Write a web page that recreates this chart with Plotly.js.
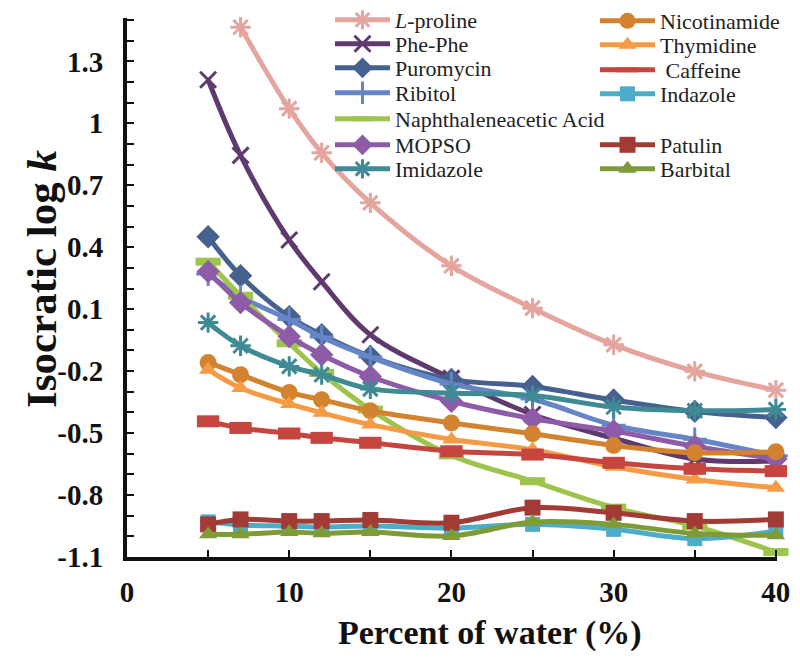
<!DOCTYPE html>
<html><head><meta charset="utf-8">
<script src="https://cdn.plot.ly/plotly-3.0.1.min.js"></script>
<style>html,body{margin:0;padding:0;background:#fff}</style>
</head><body><div id="chart" style="width:800px;height:671px"></div>
<script>
// ---- data ----
const waterPct        = [5, 7, 10, 12, 15, 20, 25, 30, 35, 40];
const waterPctProline = [7, 10, 12, 15, 20, 25, 30, 35, 40];

const lProline     = [1.465, 1.071, 0.857, 0.615, 0.31, 0.105, -0.072, -0.201, -0.292];
const phePhe       = [1.211, 0.845, 0.435, 0.233, -0.024, -0.235, -0.41, -0.525, -0.625, -0.635];
const puromycin    = [0.451, 0.262, 0.064, -0.024, -0.129, -0.24, -0.274, -0.34, -0.395, -0.425];
const ribitol      = [0.27, 0.16, 0.05, -0.035, -0.132, -0.262, -0.335, -0.462, -0.53, -0.61];
const naphAcid     = [0.33, 0.165, -0.065, -0.209, -0.386, -0.608, -0.733, -0.861, -0.95, -1.076];
const mopso        = [0.282, 0.132, -0.032, -0.121, -0.226, -0.346, -0.43, -0.49, -0.564, -0.625];
const imidazole    = [0.035, -0.077, -0.177, -0.217, -0.286, -0.306, -0.318, -0.374, -0.392, -0.386];
const nicotinamide = [-0.158, -0.217, -0.303, -0.338, -0.392, -0.451, -0.503, -0.56, -0.595, -0.59];
const thymidine    = [-0.193, -0.282, -0.359, -0.402, -0.459, -0.531, -0.58, -0.663, -0.725, -0.765];
const caffeine     = [-0.443, -0.475, -0.502, -0.523, -0.547, -0.588, -0.604, -0.644, -0.673, -0.684];
const indazole     = [-0.93, -0.945, -0.95, -0.955, -0.95, -0.96, -0.942, -0.966, -1.011, -0.974];
const patulin      = [-0.942, -0.918, -0.926, -0.926, -0.921, -0.934, -0.861, -0.886, -0.926, -0.918];
const barbital     = [-0.99, -0.99, -0.979, -0.985, -0.979, -0.998, -0.931, -0.942, -0.986, -0.995];

const seriesNames = ['<i>L</i>-proline', 'Phe-Phe', 'Puromycin', 'Ribitol', 'Naphthaleneacetic Acid',
  'MOPSO', 'Imidazole', 'Nicotinamide', 'Thymidine', ' Caffeine', 'Indazole', 'Patulin', 'Barbital'];

const yTickVals = [-1.1, -0.8, -0.5, -0.2, 0.1, 0.4, 0.7, 1, 1.3];
const yTickText = ['-1.1', '-0.8', '-0.5', '-0.2', '0.1', '0.4', '0.7', '1', '1.3'];
const xTickVals = [0, 10, 20, 30, 40];
const xTickText = ['0', '10', '20', '30', '40'];

// ---- styles ----
const seriesX = [waterPctProline, waterPct, waterPct, waterPct, waterPct, waterPct, waterPct,
  waterPct, waterPct, waterPct, waterPct, waterPct, waterPct];
const seriesY = [lProline, phePhe, puromycin, ribitol, naphAcid, mopso, imidazole,
  nicotinamide, thymidine, caffeine, indazole, patulin, barbital];
const styles = [
  {color: '#E3A59E', symbol: 'asterisk-open', size: 17, open: true},
  {color: '#5F3A6F', symbol: 'x-thin-open', size: 16, open: true},
  {color: '#46608F', symbol: 'diamond', size: 18},
  {color: '#6585C6', symbol: 'cross-thin-open', size: 17, open: true},
  {color: '#9EC44C', symbol: 'line-ew-open', size: 18, open: true, mlw: 8},
  {color: '#8D5BA7', symbol: 'diamond', size: 18},
  {color: '#3F8B95', symbol: 'asterisk-open', size: 17, open: true},
  {color: '#D3832F', symbol: 'circle', size: 17},
  {color: '#F59A45', symbol: 'triangle-up', size: 16},
  {color: '#C6453F', symbol: 'line-ew-open', size: 16, open: true, mlw: 12},
  {color: '#4CADC8', symbol: 'square', size: 15},
  {color: '#A23A36', symbol: 'square', size: 16},
  {color: '#7E9B37', symbol: 'triangle-up', size: 16}
];
// legend placement (pixel rows/cols of the reference legend)
const legendCol = [0, 0, 0, 0, 0, 0, 0, 1, 1, 1, 1, 1, 1];
const legendRowPx = [20, 44, 68, 93, 119, 145, 169, 21, 45, 70, 94, 145, 169];
const legendColPx = [330, 595];

const W = 800, H = 671;
const M = {l: 127, r: 23, t: 18, b: 114, autoexpand: false};
const plotH = H - M.t - M.b, plotW = W - M.l - M.r;

const traces = seriesY.map((ys, i) => {
  const s = styles[i];
  const legendId = i === 0 ? 'legend' : 'legend' + (i + 1);
  return {
    type: 'scatter', mode: 'lines+markers',
    x: seriesX[i], y: ys, name: seriesNames[i],
    legend: legendId, cliponaxis: false,
    line: {color: s.color, width: 5, shape: 'spline', smoothing: 1},
    marker: s.open
      ? {symbol: s.symbol, size: s.size, color: s.color, line: {color: s.color, width: s.mlw || 3}}
      : {symbol: s.symbol, size: s.size, color: s.color, line: {width: 0}}
  };
});

const serif = 'Liberation Serif, Times New Roman, serif';
const layout = {
  width: W, height: H,
  margin: M,
  paper_bgcolor: '#fff', plot_bgcolor: '#fff',
  font: {family: serif, color: '#111'},
  xaxis: {
    range: [0, 40.07], showgrid: false, zeroline: false,
    showline: true, linecolor: '#111', linewidth: 4,
    tickmode: 'array', tickvals: xTickVals, ticktext: xTickText,
    ticks: 'inside', ticklen: 7, tickwidth: 2, tickcolor: '#111',
    minor: {tickmode: 'linear', tick0: 0, dtick: 5, ticks: 'inside', ticklen: 7, tickwidth: 2, tickcolor: '#111'},
    tickfont: {family: serif, size: 29, weight: 'bold', color: '#111'},
    ticklabelstandoff: 6
  },
  yaxis: {
    range: [-1.1, 1.51], showgrid: false, zeroline: false,
    showline: true, linecolor: '#111', linewidth: 4,
    tickmode: 'array', tickvals: yTickVals, ticktext: yTickText,
    ticks: 'inside', ticklen: 7, tickwidth: 2, tickcolor: '#111',
    minor: {tickmode: 'linear', tick0: -1.1, dtick: 0.1, ticks: 'inside', ticklen: 7, tickwidth: 2, tickcolor: '#111'},
    tickfont: {family: serif, size: 29, weight: 'bold', color: '#111'},
    ticklabelstandoff: 14
  },
  annotations: [
    {text: 'Percent of water (%)', xref: 'paper', yref: 'paper',
     x: (490 - M.l) / plotW, y: (M.t + plotH - 633) / plotH, xanchor: 'center', yanchor: 'middle',
     showarrow: false, font: {family: serif, size: 34, weight: 'bold', color: '#111'}},
    {text: 'Isocratic log <i>k</i>', xref: 'paper', yref: 'paper', textangle: -90,
     x: (41 - M.l) / plotW, y: (M.t + plotH - 279) / plotH, xanchor: 'center', yanchor: 'middle',
     showarrow: false, font: {family: serif, size: 43, weight: 'bold', color: '#111'}}
  ],
  showlegend: true
};
seriesNames.forEach((n, i) => {
  const key = i === 0 ? 'legend' : 'legend' + (i + 1);
  layout[key] = {
    x: (legendColPx[legendCol[i]] - M.l) / plotW,
    y: (M.t + plotH - legendRowPx[i]) / plotH,
    xanchor: 'left', yanchor: 'middle',
    bgcolor: 'rgba(0,0,0,0)', borderwidth: 0,
    itemwidth: 55,
    font: {family: serif, size: 22, color: '#222'}
  };
});

Plotly.newPlot('chart', traces, layout, {displayModeBar: false, staticPlot: true});
</script></body></html>
